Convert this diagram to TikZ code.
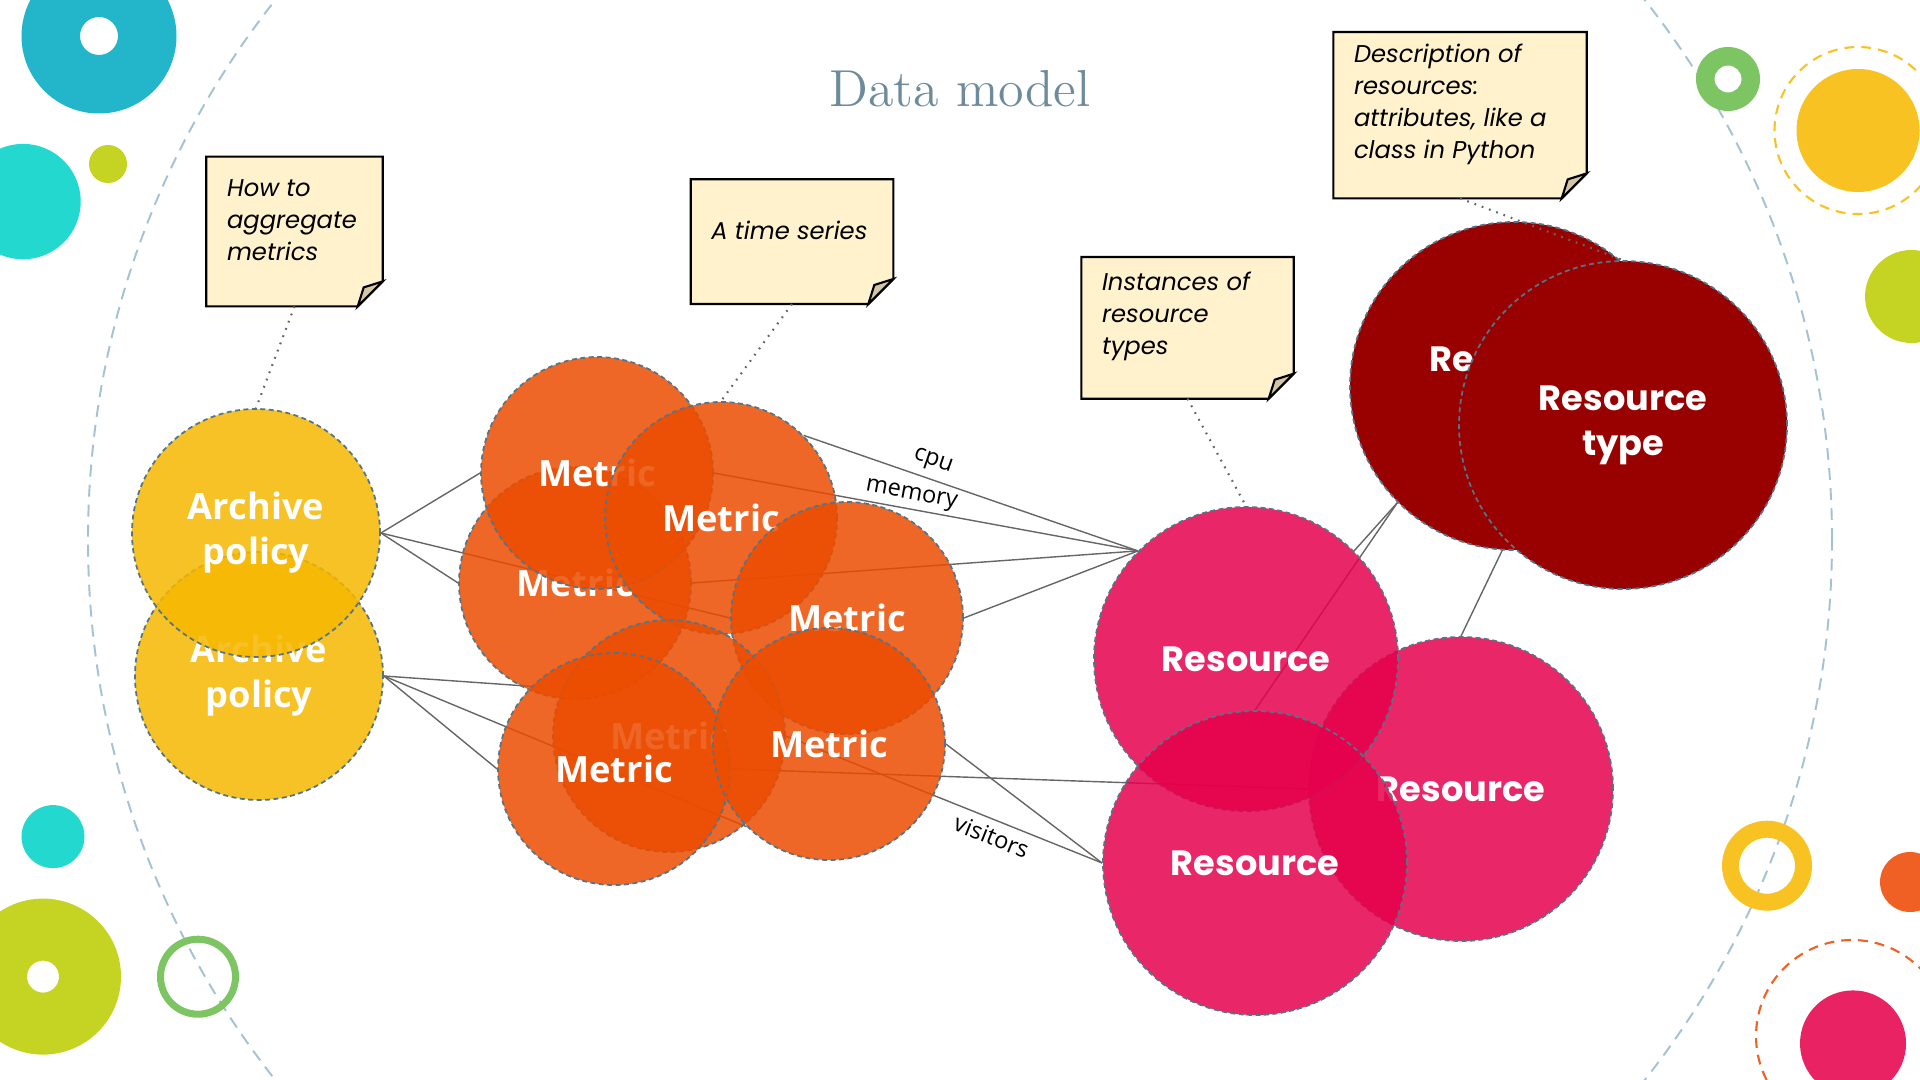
\documentclass[tikz,border=0pt]{standalone}
\usepackage{fontspec}
\usepackage{tikz}
\usetikzlibrary{positioning}
\newfontfamily\opensans{Open Sans}
\newfontfamily\poppins{Poppins}
\definecolor{apyellow}{HTML}{F5B700}
\definecolor{metricorange}{HTML}{EB4C00}
\definecolor{respink}{HTML}{E5004C}
\definecolor{typered}{HTML}{990000}
\definecolor{rimgray}{HTML}{547587}
\definecolor{linkgray}{HTML}{666666}
\definecolor{notefill}{HTML}{FFF2CC}
\definecolor{foldtan}{HTML}{D2C6A5}
\definecolor{titleblue}{HTML}{6E8B9C}
\definecolor{arcblue}{HTML}{A3C2D2}
\definecolor{dotteal}{HTML}{23B6CB}
\definecolor{dotturq}{HTML}{22D8CF}
\definecolor{dotlime}{HTML}{C5D422}
\definecolor{dotgreen}{HTML}{7DC462}
\definecolor{dotyellow}{HTML}{F7C222}
\definecolor{dotorange}{HTML}{F06024}
\definecolor{dotpink}{HTML}{E92264}
\pgfdeclarelayer{bg}
\pgfsetlayers{bg,main}
\tikzset{
        blob/.style={circle, inner sep=0pt, draw=rimgray, line width=0.5pt, dash pattern=on 1.4pt off 1pt, text=white, align=center, fill opacity=0.85, text opacity=1}, % the big dashed circles
        archive/.style={blob, fill=apyellow, minimum size=2.48cm, font=\opensans\bfseries\fontsize{10.3}{12.8}\selectfont},
        metric/.style={blob, fill=metricorange, minimum size=2.32cm, font=\opensans\bfseries\fontsize{10.3}{12.8}\selectfont},
        resource/.style={blob, fill=respink, minimum size=3.04cm, font=\poppins\bfseries\fontsize{10}{12.8}\selectfont},
        restype/.style={blob, fill=typered, fill opacity=1, minimum size=3.28cm, font=\poppins\bfseries\fontsize{10}{12.8}\selectfont},
        link/.style={draw=linkgray, line width=0.4pt},
        hint/.style={draw=linkgray, line width=0.6pt, dash pattern=on 0.5pt off 1.7pt},
        notebox/.style={inner sep=0pt},
        notetext/.style={inner sep=0pt, align=left, font=\poppins\itshape\fontsize{6.9}{9.1}\selectfont},
        edgelabel/.style={font=\opensans\fontsize{6.7}{8}\selectfont, sloped, inner sep=2pt},
}
\begin{document}
\begin{tikzpicture}[x=1cm, y=-1cm]
\useasboundingbox (0,0) rectangle (19.2,10.8);
% backdrop
\draw[arcblue, line width=0.55pt, dash pattern=on 3.4pt off 2.3pt] (9.6,5.4) circle[radius=8.72cm];
\fill[dotteal, even odd rule] (0.99,0.36) circle[radius=0.775cm] (0.99,0.36) circle[radius=0.19cm];
\fill[dotturq] (0.23,2.016) circle[radius=0.577cm];
\fill[dotlime] (1.08,1.64) circle[radius=0.19cm];
\fill[dotturq] (0.53,8.366) circle[radius=0.315cm];
\fill[dotlime, even odd rule] (0.43,9.766) circle[radius=0.78cm] (0.43,9.766) circle[radius=0.16cm];
\draw[dotgreen, line width=2pt] (1.98,9.767) circle[radius=0.375cm];
\fill[dotgreen, even odd rule] (17.28,0.79) circle[radius=0.32cm] (17.28,0.79) circle[radius=0.135cm];
\fill[dotyellow] (18.58,1.305) circle[radius=0.615cm];
\draw[dotyellow, line width=0.6pt, dash pattern=on 2.8pt off 2pt] (18.58,1.305) circle[radius=0.835cm];
\fill[dotlime] (19.115,2.965) circle[radius=0.465cm];
\fill[dotyellow, even odd rule] (17.67,8.657) circle[radius=0.45cm] (17.67,8.657) circle[radius=0.28cm];
\fill[dotorange] (19.1,8.82) circle[radius=0.3cm];
\draw[dotorange, line width=0.6pt, dash pattern=on 2.8pt off 2pt] (18.52,10.36) circle[radius=0.96cm];
\fill[dotpink] (18.53,10.434) circle[radius=0.53cm];

\node[font=\fontsize{14.8}{16}\selectfont, text=titleblue, anchor=base] (title) at (9.6,1.065) {Data model};

% circles
\node[archive] (ap2) at (2.59,6.76) {Archive\\policy};
\node[archive] (ap1) at (2.56,5.33) {Archive\\policy};
\foreach \n/\x/\y in {m3/5.75/5.83, m1/5.97/4.73, m2/7.21/5.18, m4/8.47/6.18, m5/6.69/7.36, m6/6.14/7.69, m7/8.29/7.44}
  \node[metric] (\n) at (\x,\y) {Metric};
\node[restype] (rt1) at (15.14,3.86) {Resource\\type};
\node[restype] (rt2) at (16.23,4.25) {Resource\\type};
\foreach \n/\x/\y in {r2/14.61/7.89, r1/12.46/6.59, r3/12.55/8.63}
  \node[resource] (\n) at (\x,\y) {Resource};

% notes
\node[notebox, minimum width=1.75cm, minimum height=1.484cm] (n1) at (2.945,2.315) {};
\node[notetext, right=0.2cm of n1.west, yshift=0.11cm] (n1text) {How to\\aggregate\\metrics};
\node[notebox, minimum width=2.012cm, minimum height=1.233cm] (n2) at (7.92,2.4165) {};
\node[notetext, right=0.2cm of n2.west, yshift=0.11cm] (n2text) {A time series};
\node[notebox, minimum width=2.11cm, minimum height=1.403cm] (n3) at (11.875,3.2785) {};
\node[notetext, right=0.2cm of n3.west, yshift=0.11cm] (n3text) {Instances of\\resource\\types};
\node[notebox, minimum width=2.52cm, minimum height=1.65cm] (n4) at (14.6,1.152) {};
\node[notetext, right=0.2cm of n4.west, yshift=0.11cm] (n4text) {Description of\\resources:\\attributes, like a\\class in Python};

\foreach \n/\t in {n1/ap1, n2/m2, n3/r1, n4/rt2}
  \draw[hint] (\n.south) -- (\t.north);

\begin{pgfonlayer}{bg}
\foreach \a/\b in {ap1.east/m1.west, ap1.east/m3.west, ap1.east/m4.west, ap2.east/m6.north west, ap2.east/m6.west, ap2.east/m7.south west, m3.east/r1.north west, m4.east/r1.north west, m6.east/r2.west, m7.east/r3.west, r1.north east/rt1.south west, r3.north/rt1.south west, r2.north/rt2.south west}
  \draw[link] (\a) -- (\b);
\draw[link] (m2.north east) -- node[edgelabel, above, pos=0.37] (cpulabel) {cpu} (r1.north west);
\draw[link] (m1.east) -- node[edgelabel, above, pos=0.46, inner sep=1pt] (memlabel) {memory} (r1.north west);
\draw[link] (m5.east) -- node[edgelabel, below, pos=0.67] (vislabel) {visitors} (r3.west);
\foreach \n in {n1,n2,n3,n4} {
  \filldraw[fill=notefill, draw=black, line width=0.6pt] (\n.north west) -- (\n.north east) -- ([yshift=0.25cm]\n.south east) -- ([xshift=-0.25cm]\n.south east) -- (\n.south west) -- cycle;
  \filldraw[fill=foldtan, draw=black, line width=0.6pt] ([yshift=0.25cm]\n.south east) -- ([xshift=-0.19cm,yshift=0.19cm]\n.south east) -- ([xshift=-0.25cm]\n.south east) -- cycle;
}
\end{pgfonlayer}
\end{tikzpicture}
\end{document}
